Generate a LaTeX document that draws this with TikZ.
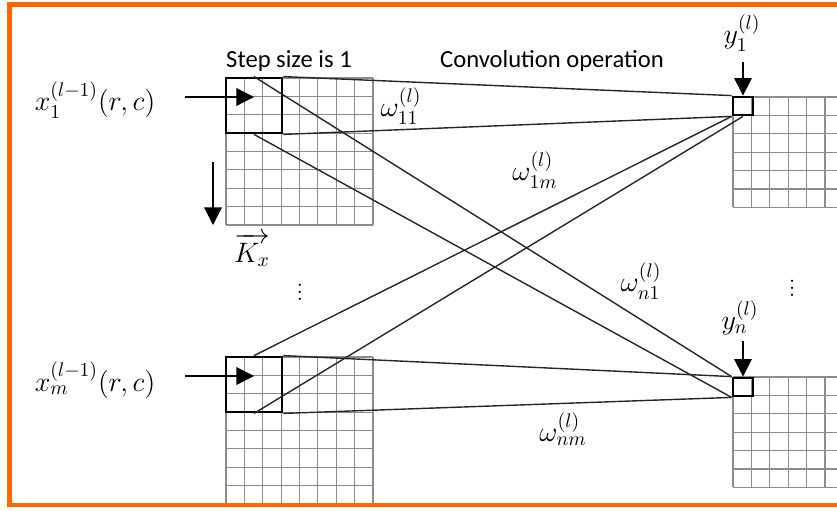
\RequirePackage{fix-cm}
\documentclass[tikz,border=0pt]{standalone}
\usepackage{fontspec}
\usepackage{amsmath}
\usepackage{tikz}
\usetikzlibrary{arrows.meta, positioning}
\newfontfamily\labelfont{Carlito}
\definecolor{frameorange}{HTML}{FF6600}
\tikzstyle{gridline} = [draw=black!45, line width=0.7pt]
\tikzstyle{kernel} = [rectangle, draw=black, line width=1.6pt, minimum width=1.12cm, minimum height=1.1cm, inner sep=0pt]
\tikzstyle{outcell} = [rectangle, draw=black, line width=1.6pt, minimum width=0.4cm, minimum height=0.36cm, inner sep=0pt]
\tikzstyle{link} = [draw=black!85, line width=0.8pt]
\tikzstyle{feed} = [black, line width=0.7pt, -{Triangle[length=10pt, width=10pt]}]
\tikzstyle{mathlabel} = [font=\fontsize{16}{19}\selectfont, inner sep=1pt]
\tikzstyle{textlabel} = [font=\labelfont\fontsize{14}{17}\selectfont, inner sep=1pt]

\begin{document}
\begin{tikzpicture}[x=0.02cm, y=-0.02cm]
\useasboundingbox (0,0) rectangle (837,510);

% Input feature maps
\foreach \i in {0,...,8} {
  \draw[gridline] (226+\i*18.375,78) -- (226+\i*18.375,225);
  \draw[gridline] (226,78+\i*18.375) -- (373,78+\i*18.375);
  \draw[gridline] (226+\i*18.375,357) -- (226+\i*18.375,504);
  \draw[gridline] (226,357+\i*18.375) -- (373,357+\i*18.375);
}

% Output feature maps
\foreach \i in {0,...,6} {
  \draw[gridline] (733+\i*18.4,97) -- (733+\i*18.4,207.4);
  \draw[gridline] (733,97+\i*18.4) -- (860,97+\i*18.4);
  \draw[gridline] (733+\i*18.4,377) -- (733+\i*18.4,487.4);
  \draw[gridline] (733,377+\i*18.4) -- (860,377+\i*18.4);
}

% Frame
\draw[frameorange, line width=2.5pt] (9.5,4.5) rectangle (900,505);

% Kernels and output cells
\node (kerneltop) [kernel] at (254,105.5) {};
\node (kernelbot) [kernel] at (254,384.5) {};
\node (outtop) [outcell] at (743,106) {};
\node (outbot) [outcell] at (743,387) {};

% Input labels
\node (xtop) [mathlabel] at (95,100) {$x_1^{(l-1)}(r,c)$};
\node (xbot) [mathlabel] at (95,380) {$x_m^{(l-1)}(r,c)$};
\coordinate (intop) at (185,97);
\coordinate (inbot) at (185,376);
\draw[feed] (intop) -- (intop -| kerneltop);
\draw[feed] (inbot) -- (inbot -| kernelbot);

% Sliding direction
\coordinate (slidestart) at (213,162);
\coordinate (slideend) at (213,225);
\draw[feed] (slidestart) -- (slideend);
\node (kx) [mathlabel] at (252,250) {$\overrightarrow{K_x}$};
\node (dotsin) [mathlabel] at (300,287) {$\vdots$};

% Output labels
\node (ytop) [mathlabel] at (742,33) {$y_1^{(l)}$};
\node (ybot) [mathlabel] at (740,318) {$y_n^{(l)}$};
\coordinate (outtopin) at (743,62);
\coordinate (outbotin) at (743,341);
\draw[feed] (outtopin) -- (outtop.north);
\draw[feed] (outbotin) -- (outbot.north);
\node (dotsout) [mathlabel] at (792,283) {$\vdots$};

% Texts
\node (step) [textlabel] at (289,61) {Step size is 1};
\node (conv) [textlabel] at (552,61) {Convolution operation};

% Weights
\draw[link] (kerneltop.north east) -- (outtop.north west);
\draw[link] (kerneltop.south east) -- (outtop.south west);
\draw[link] (kerneltop.north) -- (outbot.north west);
\draw[link] (kerneltop.south) -- (outbot.south west);
\draw[link] (kernelbot.north) -- (outtop.south west);
\draw[link] (kernelbot.south) -- (outtop.south);
\draw[link] (kernelbot.north east) -- (outbot.north west);
\draw[link] (kernelbot.south east) -- (outbot.south west);

\node (w11) [mathlabel] at (401,106) {$\omega_{11}^{(l)}$};
\node (w1m) [mathlabel] at (535,170) {$\omega_{1m}^{(l)}$};
\node (wn1) [mathlabel] at (641,281) {$\omega_{n1}^{(l)}$};
\node (wnm) [mathlabel] at (563,429) {$\omega_{nm}^{(l)}$};

\end{tikzpicture}
\end{document}
